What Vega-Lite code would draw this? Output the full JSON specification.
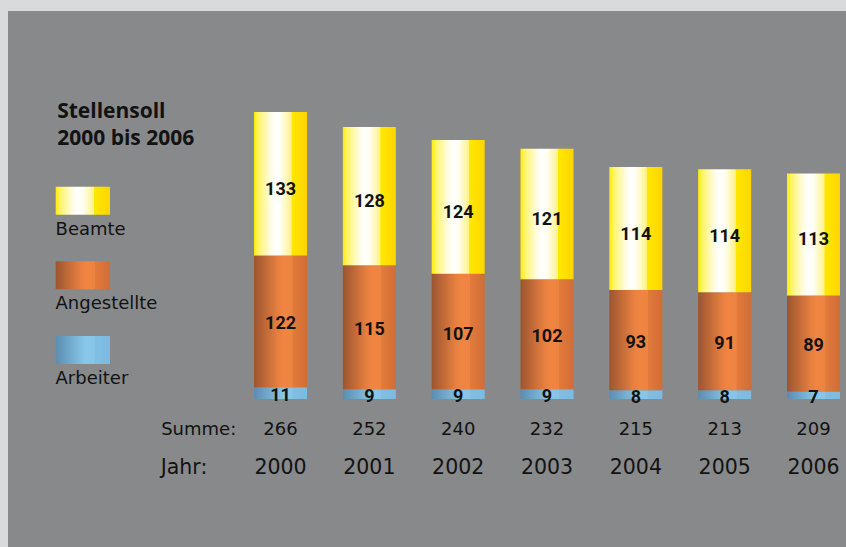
{
  "$schema": "https://vega.github.io/schema/vega-lite/v6.json",
  "width": 838,
  "height": 536,
  "autosize": {"type": "none"},
  "padding": {"left": 8, "top": 11, "right": 0, "bottom": 0},
  "background": "#d9dadc",
  "config": {
    "view": {"fill": "#88898b", "stroke": null},
    "text": {"font": "DejaVu Sans", "color": "#121212"}
  },
  "datasets": {
    "stellen": [
      {"Jahr": "2000", "Gruppe": "Arbeiter", "Stellen": 11},
      {"Jahr": "2000", "Gruppe": "Angestellte", "Stellen": 122},
      {"Jahr": "2000", "Gruppe": "Beamte", "Stellen": 133},
      {"Jahr": "2001", "Gruppe": "Arbeiter", "Stellen": 9},
      {"Jahr": "2001", "Gruppe": "Angestellte", "Stellen": 115},
      {"Jahr": "2001", "Gruppe": "Beamte", "Stellen": 128},
      {"Jahr": "2002", "Gruppe": "Arbeiter", "Stellen": 9},
      {"Jahr": "2002", "Gruppe": "Angestellte", "Stellen": 107},
      {"Jahr": "2002", "Gruppe": "Beamte", "Stellen": 124},
      {"Jahr": "2003", "Gruppe": "Arbeiter", "Stellen": 9},
      {"Jahr": "2003", "Gruppe": "Angestellte", "Stellen": 102},
      {"Jahr": "2003", "Gruppe": "Beamte", "Stellen": 121},
      {"Jahr": "2004", "Gruppe": "Arbeiter", "Stellen": 8},
      {"Jahr": "2004", "Gruppe": "Angestellte", "Stellen": 93},
      {"Jahr": "2004", "Gruppe": "Beamte", "Stellen": 114},
      {"Jahr": "2005", "Gruppe": "Arbeiter", "Stellen": 8},
      {"Jahr": "2005", "Gruppe": "Angestellte", "Stellen": 91},
      {"Jahr": "2005", "Gruppe": "Beamte", "Stellen": 114},
      {"Jahr": "2006", "Gruppe": "Arbeiter", "Stellen": 7},
      {"Jahr": "2006", "Gruppe": "Angestellte", "Stellen": 89},
      {"Jahr": "2006", "Gruppe": "Beamte", "Stellen": 113}
    ],
    "gruppen": [
      {"Gruppe": "Beamte"},
      {"Gruppe": "Angestellte"},
      {"Gruppe": "Arbeiter"}
    ]
  },
  "layer": [
    {
      "data": {"name": "gruppen"},
      "encoding": {
        "x": {
          "datum": "Legende",
          "type": "nominal",
          "scale": {"domain": ["Legende"], "range": [47.7, 102], "paddingInner": 0, "paddingOuter": 0},
          "axis": null
        },
        "y": {
          "field": "Gruppe",
          "type": "nominal",
          "scale": {"domain": ["Beamte", "Angestellte", "Arbeiter"], "range": [175.7, 353], "paddingInner": 0.625, "paddingOuter": 0},
          "axis": null
        }
      },
      "layer": [
        {
          "transform": [{"filter": "datum.Gruppe === 'Beamte'"}],
          "mark": {"type": "rect", "color": {"gradient": "linear", "x1": 0, "x2": 1, "y1": 0, "y2": 0, "stops": [
            {"offset": 0, "color": "#ffed00"},
            {"offset": 0.08, "color": "#fff466"},
            {"offset": 0.3, "color": "#fffce0"},
            {"offset": 0.4, "color": "#ffffff"},
            {"offset": 0.5, "color": "#fffef2"},
            {"offset": 0.7, "color": "#fff38a"},
            {"offset": 0.715, "color": "#ffe800"},
            {"offset": 1, "color": "#ffd400"}
          ]}}
        },
        {
          "transform": [{"filter": "datum.Gruppe === 'Angestellte'"}],
          "mark": {"type": "rect", "color": {"gradient": "linear", "x1": 0, "x2": 1, "y1": 0, "y2": 0, "stops": [
            {"offset": 0, "color": "#9c5530"},
            {"offset": 0.45, "color": "#e67f40"},
            {"offset": 0.55, "color": "#f08542"},
            {"offset": 0.72, "color": "#ee8441"},
            {"offset": 0.73, "color": "#e27a3b"},
            {"offset": 1, "color": "#d06d36"}
          ]}}
        },
        {
          "transform": [{"filter": "datum.Gruppe === 'Arbeiter'"}],
          "mark": {"type": "rect", "color": {"gradient": "linear", "x1": 0, "x2": 1, "y1": 0, "y2": 0, "stops": [
            {"offset": 0, "color": "#5b8db0"},
            {"offset": 0.45, "color": "#80bde0"},
            {"offset": 0.55, "color": "#88c6ea"},
            {"offset": 0.72, "color": "#86c4e8"},
            {"offset": 0.73, "color": "#80bfe3"},
            {"offset": 1, "color": "#7bbbe0"}
          ]}}
        },
        {
          "mark": {"type": "text", "align": "left", "baseline": "middle", "dx": -27.3, "dy": 29, "fontSize": 18},
          "encoding": {"text": {"field": "Gruppe"}}
        },
        {
          "transform": [{"filter": "datum.Gruppe === 'Beamte'"}],
          "mark": {
            "type": "text",
            "text": ["Stellensoll", "2000 bis 2006"],
            "font": "Open Sans",
            "fontWeight": "bold",
            "fontSize": 21,
            "lineHeight": 27,
            "align": "left",
            "baseline": "alphabetic",
            "dx": -25.7,
            "dy": -82.7
          }
        }
      ]
    },
    {
      "data": {"name": "stellen"},
      "transform": [
        {"stack": "Stellen", "groupby": ["Jahr"], "as": ["unten", "oben"]},
        {"calculate": "(datum.unten + datum.oben) / 2", "as": "mitte"}
      ],
      "encoding": {
        "x": {
          "field": "Jahr",
          "type": "nominal",
          "scale": {"domain": ["Jahr:", "2000", "2001", "2002", "2003", "2004", "2005", "2006"], "range": [157.2, 832], "paddingInner": 0.403, "paddingOuter": 0},
          "axis": null
        }
      },
      "layer": [
        {
          "transform": [{"filter": "datum.Gruppe === 'Arbeiter'"}],
          "mark": {"type": "bar", "color": {"gradient": "linear", "x1": 0, "x2": 1, "y1": 0, "y2": 0, "stops": [
            {"offset": 0, "color": "#5b8db0"},
            {"offset": 0.45, "color": "#80bde0"},
            {"offset": 0.55, "color": "#88c6ea"},
            {"offset": 0.72, "color": "#86c4e8"},
            {"offset": 0.73, "color": "#80bfe3"},
            {"offset": 1, "color": "#7bbbe0"}
          ]}},
          "encoding": {
            "y": {"field": "oben", "type": "quantitative", "scale": {"domain": [0, 359.6], "range": [388, 0], "nice": false, "zero": false}, "axis": null},
            "y2": {"field": "unten"}
          }
        },
        {
          "transform": [{"filter": "datum.Gruppe === 'Angestellte'"}],
          "mark": {"type": "bar", "color": {"gradient": "linear", "x1": 0, "x2": 1, "y1": 0, "y2": 0, "stops": [
            {"offset": 0, "color": "#9c5530"},
            {"offset": 0.45, "color": "#e67f40"},
            {"offset": 0.55, "color": "#f08542"},
            {"offset": 0.72, "color": "#ee8441"},
            {"offset": 0.73, "color": "#e27a3b"},
            {"offset": 1, "color": "#d06d36"}
          ]}},
          "encoding": {
            "y": {"field": "oben", "type": "quantitative", "axis": null},
            "y2": {"field": "unten"}
          }
        },
        {
          "transform": [{"filter": "datum.Gruppe === 'Beamte'"}],
          "mark": {"type": "bar", "color": {"gradient": "linear", "x1": 0, "x2": 1, "y1": 0, "y2": 0, "stops": [
            {"offset": 0, "color": "#ffed00"},
            {"offset": 0.08, "color": "#fff466"},
            {"offset": 0.3, "color": "#fffce0"},
            {"offset": 0.4, "color": "#ffffff"},
            {"offset": 0.5, "color": "#fffef2"},
            {"offset": 0.7, "color": "#fff38a"},
            {"offset": 0.715, "color": "#ffe800"},
            {"offset": 1, "color": "#ffd400"}
          ]}},
          "encoding": {
            "y": {"field": "oben", "type": "quantitative", "axis": null},
            "y2": {"field": "unten"}
          }
        },
        {
          "transform": [{"filter": "datum.Gruppe !== 'Beamte'"}],
          "mark": {"type": "text", "font": "Roboto", "fontWeight": "bold", "fontSize": 18, "baseline": "middle", "dy": 3},
          "encoding": {
            "y": {"field": "mitte", "type": "quantitative", "axis": null},
            "text": {"field": "Stellen", "type": "quantitative"}
          }
        },
        {
          "transform": [{"filter": "datum.Gruppe === 'Beamte'"}],
          "mark": {"type": "text", "font": "Roboto", "fontWeight": "bold", "fontSize": 18, "baseline": "middle", "dy": 6},
          "encoding": {
            "y": {"field": "mitte", "type": "quantitative", "axis": null},
            "text": {"field": "Stellen", "type": "quantitative"}
          }
        },
        {
          "transform": [{"aggregate": [{"op": "sum", "field": "Stellen", "as": "Summe"}], "groupby": ["Jahr"]}],
          "mark": {"type": "text", "fontSize": 18, "baseline": "middle", "dy": 30.5},
          "encoding": {
            "y": {"datum": 0, "type": "quantitative"},
            "text": {"field": "Summe", "type": "quantitative"}
          }
        },
        {
          "transform": [{"aggregate": [{"op": "count", "as": "Anzahl"}], "groupby": ["Jahr"]}],
          "mark": {"type": "text", "fontSize": 20.5, "baseline": "middle", "dy": 69},
          "encoding": {
            "y": {"datum": 0, "type": "quantitative"},
            "text": {"field": "Jahr", "type": "nominal"}
          }
        },
        {
          "data": {"values": [{"Jahr": "Jahr:", "Zeile": "Summe:"}]},
          "mark": {"type": "text", "fontSize": 18, "baseline": "middle", "dx": 7, "dy": 30.5},
          "encoding": {
            "y": {"datum": 0, "type": "quantitative"},
            "text": {"field": "Zeile", "type": "nominal"}
          }
        },
        {
          "data": {"values": [{"Jahr": "Jahr:"}]},
          "mark": {"type": "text", "fontSize": 20.5, "baseline": "middle", "dx": -7.7, "dy": 69},
          "encoding": {
            "y": {"datum": 0, "type": "quantitative"},
            "text": {"field": "Jahr", "type": "nominal"}
          }
        }
      ]
    }
  ],
  "resolve": {"scale": {"x": "independent", "y": "independent"}}
}
